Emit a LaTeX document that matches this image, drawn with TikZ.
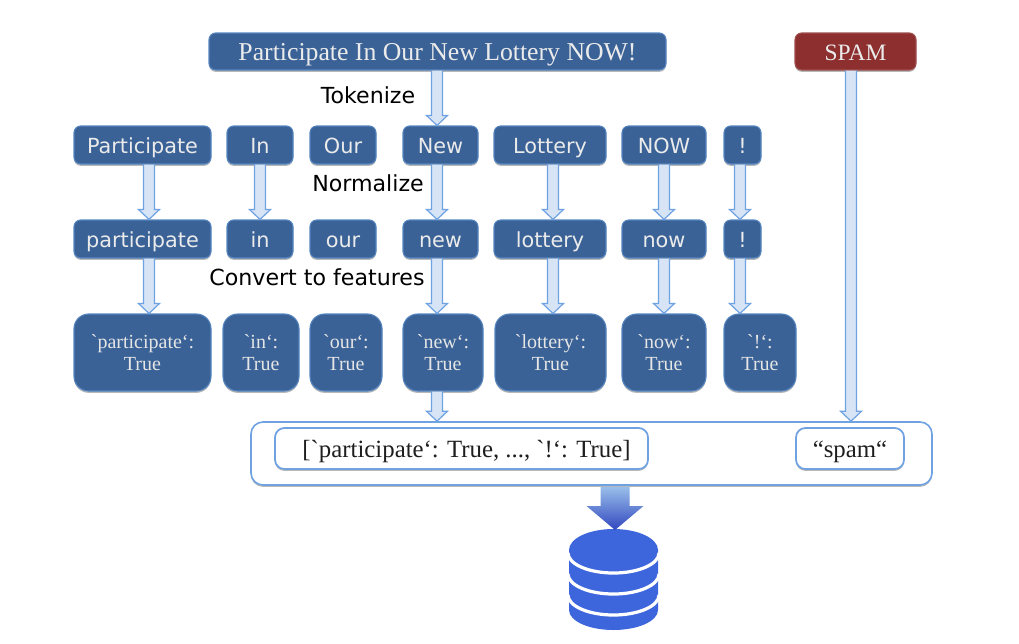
\documentclass[tikz,border=0pt]{standalone}
\usepackage{fontspec}
\setmainfont{Liberation Serif}
\newfontfamily\lab{DejaVu Sans}
\newfontfamily\ser{Liberation Serif}
\usetikzlibrary{calc,shadows}
\definecolor{boxblue}{HTML}{3A6296}
\definecolor{boxedge}{HTML}{5585C0}
\definecolor{redbox}{HTML}{8C2F2E}
\definecolor{arrfill}{HTML}{D6E4F6}
\definecolor{arredge}{HTML}{6EA2E2}
\definecolor{dbblue}{HTML}{3D66DC}
\definecolor{txt}{HTML}{1E1E1E}
\tikzset{
  softshadow/.style={drop shadow={shadow xshift=0pt,shadow yshift=-1.4pt,opacity=.28,fill=black}},
  basebox/.style={rectangle,inner sep=0pt,align=center,line width=.8pt,softshadow},
  topbox/.style={basebox,fill=boxblue,draw=boxedge,rounded corners=5pt,text=white!92!black,text height=14.4pt,text depth=1.6pt,font=\ser\fontsize{19.3}{22}\selectfont},
  redtop/.style={topbox,fill=redbox,draw=redbox!85!white,font=\ser\fontsize{17.6}{20}\selectfont},
  tokbox/.style={basebox,fill=boxblue,draw=boxedge,rounded corners=5pt,text=white!92!black,text height=14pt,text depth=2pt,font=\lab\fontsize{15.6}{18}\selectfont},
  featbox/.style={basebox,fill=boxblue,draw=boxedge,rounded corners=11pt,text=white!90!black,font=\ser\fontsize{15}{16.8}\selectfont},
  outerbox/.style={basebox,fill=white,draw=arredge,line width=1.2pt,rounded corners=9pt},
  innerbox/.style={basebox,fill=white,draw=arredge,line width=1.3pt,rounded corners=7pt,text=txt,text height=14.4pt,text depth=1.6pt,font=\ser\fontsize{18.6}{22}\selectfont},
  steplabel/.style={inner sep=0pt,text=black,font=\lab\fontsize{16.6}{19}\selectfont},
  hollowarrow/.style={fill=arrfill,draw=arredge,line width=.9pt,line join=miter},
  bigarrow/.style={top color=arredge!70!white,bottom color=arredge!55!blue!80!black,draw=none},
}
\newcommand{\bx}[7]{\node[#6,minimum width={(#3-#2)*0.75pt},minimum height={(#5-#4)*0.75pt}] (#1) at ({(#2+#3)/2},{(#4+#5)/2}) {#7};}
% hollow block arrow from node #1 to node #2 along the column x=#3
\newcommand{\conn}[3]{%
  \coordinate (cx) at (#3,0);
  \draw[hollowarrow]
    ($(#1.south -| cx)+(-5.5,0)$) -- ($(#2.north -| cx)+(-5.5,-10)$) -- ($(#2.north -| cx)+(-10.5,-10)$)
    -- (#2.north -| cx) -- ($(#2.north -| cx)+(10.5,-10)$) -- ($(#2.north -| cx)+(5.5,-10)$)
    -- ($(#1.south -| cx)+(5.5,0)$);}
\begin{document}
\begin{tikzpicture}[x=0.75pt,y=-0.75pt]
\useasboundingbox (0,0) rectangle (1019,643);
% outer frame first, so the inner boxes and arrows lie on it
\bx{outer}{251}{932}{422}{485}{outerbox}{}
\bx{feat}{275}{648}{428}{469}{innerbox}{\hspace*{7.5pt}[`participate‘: True, ..., `!‘: True]}
\bx{label}{796}{904}{428}{469}{innerbox}{“spam“}
% top
\bx{sent}{209}{666}{33}{70}{topbox}{Participate In Our New Lottery NOW!}
\bx{spam}{795}{916}{33}{70}{redtop}{SPAM}
% tokens
\bx{t1}{74}{211}{126}{164}{tokbox}{Participate}
\bx{t2}{227}{293}{126}{164}{tokbox}{In}
\bx{t3}{310}{376}{126}{164}{tokbox}{Our}
\bx{t4}{403}{478}{126}{164}{tokbox}{New}
\bx{t5}{494}{606}{126}{164}{tokbox}{Lottery}
\bx{t6}{622}{706}{126}{164}{tokbox}{NOW}
\bx{t7}{724}{761}{126}{164}{tokbox}{!}
% normalized
\bx{n1}{74}{211}{220}{258}{tokbox}{participate}
\bx{n2}{227}{293}{220}{258}{tokbox}{in}
\bx{n3}{310}{376}{220}{258}{tokbox}{our}
\bx{n4}{403}{478}{220}{258}{tokbox}{new}
\bx{n5}{494}{606}{220}{258}{tokbox}{lottery}
\bx{n6}{622}{706}{220}{258}{tokbox}{now}
\bx{n7}{724}{761}{220}{258}{tokbox}{!}
% features
\bx{f1}{74}{211}{314}{391}{featbox}{`participate‘:\\True}
\bx{f2}{223}{299}{314}{391}{featbox}{`in‘:\\True}
\bx{f3}{310}{382}{314}{391}{featbox}{`our‘:\\True}
\bx{f4}{403}{483}{314}{391}{featbox}{`new‘:\\True}
\bx{f5}{495}{606}{314}{391}{featbox}{`lottery‘:\\True}
\bx{f6}{622}{706}{314}{391}{featbox}{`now‘:\\True}
\bx{f7}{724}{796}{314}{391}{featbox}{`!‘:\\True}
% step labels
\node[steplabel] (tokenize) at (368,95) {Tokenize};
\node[steplabel] (normalize) at (368,183) {Normalize};
\node[steplabel] (convert) at (317,277) {Convert to features};
% connectors
\conn{sent}{t4}{437}
\conn{t1}{n1}{149}
\conn{t2}{n2}{260}
\conn{t4}{n4}{437}
\conn{t5}{n5}{553}
\conn{t6}{n6}{664}
\conn{t7}{n7}{740}
\conn{n1}{f1}{149}
\conn{n4}{f4}{437}
\conn{n5}{f5}{553}
\conn{n6}{f6}{664}
\conn{n7}{f7}{740}
\conn{f4}{outer}{437}
\conn{spam}{outer}{851}
% database
\fill[dbblue] (569,550) -- (569,610) arc[start angle=180,end angle=0,x radius=44.5,y radius=20] -- (658,550) -- cycle;
\fill[dbblue] (613.5,550) ellipse [x radius=44.5,y radius=21];
\foreach \yy in {553,574,595}{
  \draw[white,line width=2.4pt] (659,\yy) arc[start angle=0,end angle=180,x radius=45.5,y radius=20];
}
\coordinate (dbtop) at (615,530);
% big arrow
\coordinate (cx) at (615,0);
\path[bigarrow]
  ($(outer.south -| cx)+(-14.5,1)$) -- ($(dbtop)+(-14.5,-24)$) -- ($(dbtop)+(-28.5,-24)$)
  -- (dbtop) -- ($(dbtop)+(28.5,-24)$) -- ($(dbtop)+(14.5,-24)$) -- ($(outer.south -| cx)+(14.5,1)$) -- cycle;
\end{tikzpicture}
\end{document}
